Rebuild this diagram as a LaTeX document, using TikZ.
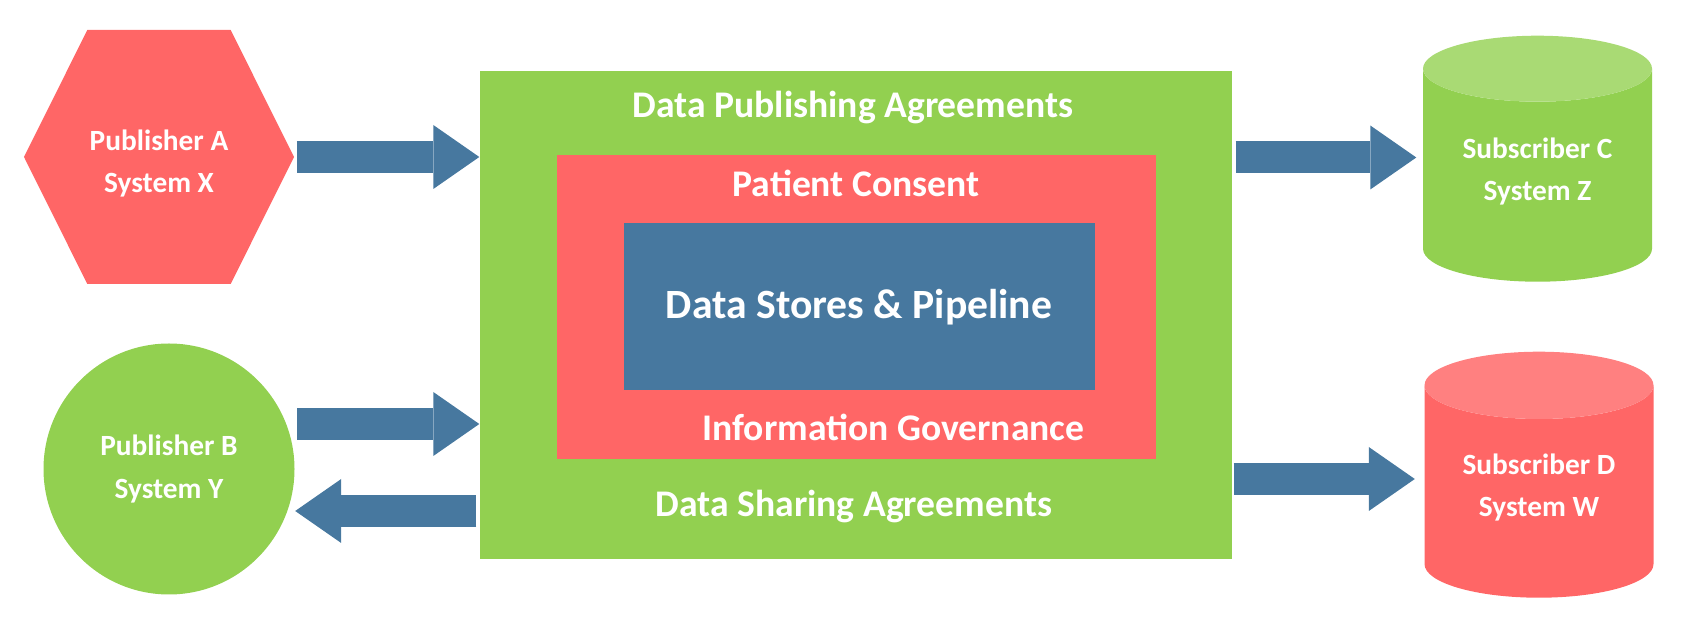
\documentclass[tikz,border=0pt]{standalone}
\usepackage{fontspec}
\setmainfont{Carlito}
\usetikzlibrary{positioning,shapes.geometric,shapes.symbols,arrows.meta}
\definecolor{govred}{HTML}{FF6666}
\definecolor{lightred}{HTML}{FF8080}
\definecolor{agreegreen}{HTML}{92D050}
\definecolor{lightgreen}{HTML}{A9DA74}
\definecolor{pipeblue}{HTML}{47789F}
\tikzset{
	frame/.style     = {rectangle, fill=agreegreen, minimum width=7.52cm, minimum height=4.88cm},
	consent/.style   = {rectangle, fill=govred, minimum width=5.99cm, minimum height=3.04cm},
	store/.style     = {rectangle, fill=pipeblue, text=white, font=\bfseries\fontsize{11.85}{14}\selectfont, minimum width=4.71cm, minimum height=1.67cm},
	caption/.style   = {anchor=base, text=white, inner sep=0pt, font=\bfseries\fontsize{10.7}{12}\selectfont},
	system/.style    = {text=white, align=center, inner sep=0pt, font=\bfseries\fontsize{8.35}{12}\selectfont},
	publisher/.style = {system, signal, signal to=west and east, signal pointer angle=127, fill=govred, minimum width=2.70cm, minimum height=2.54cm, text height=0.76cm},
	reader/.style    = {system, circle, fill=agreegreen, minimum size=2.51cm},
	subscriber/.style= {system, cylinder, shape border rotate=90, aspect=0.44, minimum width=2.29cm, minimum height=2.46cm, cylinder uses custom fill, text depth=0.13cm},
	flow/.style      = {draw=pipeblue, line width=0.32cm, -{Triangle[length=0.46cm, width=0.64cm, line width=0pt]}},
}

\begin{document}
\begin{tikzpicture}
	\useasboundingbox (0,0) rectangle (16.83,-6.27);
	% Draw the nested boxes
	\draw
	node[frame                                          ] (frame) at (8.56,-3.15) {}
	node[consent, above of = frame  , node distance = 0.08cm] (consent) {}
	node[store  , right of = consent, node distance = 0.03cm] (store) {Data Stores \& Pipeline};

	% Draw the box captions
	\node[caption] (publishing) at ([shift={(-0.03,-0.47)}]frame.north)   {Data Publishing Agreements};
	\node[caption] (patient)    at ([shift={(0,-0.42)}]consent.north)     {Patient Consent};
	\node[caption] (governance) at ([shift={(0.375,0.19)}]consent.south)  {Information Governance};
	\node[caption] (sharing)    at ([shift={(-0.02,0.43)}]frame.south)    {Data Sharing Agreements};

	% Draw the publishers and subscribers
	\draw
	node[publisher , left of = frame , node distance = 6.97cm , yshift = 1.58cm ] (pubA) {Publisher A\\System X}
	node[reader    , left of = frame , node distance = 6.87cm , yshift = -1.54cm] (pubB) {Publisher B\\System Y}
	node[subscriber, right of = frame, node distance = 6.815cm, anchor = top, yshift = 2.80cm , cylinder body fill=agreegreen, cylinder end fill=lightgreen] (subC) {Subscriber C\\System Z}
	node[subscriber, right of = frame, node distance = 6.83cm , anchor = top, yshift = -0.36cm, cylinder body fill=govred, cylinder end fill=lightred] (subD) {Subscriber D\\System W};

	\coordinate (bIn)  at ([yshift=0.45cm]pubB.east);
	\coordinate (bOut) at ([yshift=-0.42cm]pubB.east);
	\coordinate (cIn)  at ([yshift=-1.225cm]subC.top);
	\coordinate (dIn)  at ([yshift=-1.28cm]subD.top);

	% Connect everything together
	\draw[flow, shorten <=0.02cm] (pubA.east) -- (pubA.east -| frame.west);
	\draw[flow, shorten <=0.02cm] (bIn) -- (bIn -| frame.west);
	\draw[flow, shorten <=0.03cm] (bOut -| frame.west) -- (bOut);
	\draw[flow, shorten <=0.03cm, shorten >=0.06cm] (cIn -| frame.east) -- (cIn -| subC.west);
	\draw[flow, shorten <=0.01cm, shorten >=0.09cm] (dIn -| frame.east) -- (dIn -| subD.west);
\end{tikzpicture}
\end{document}
